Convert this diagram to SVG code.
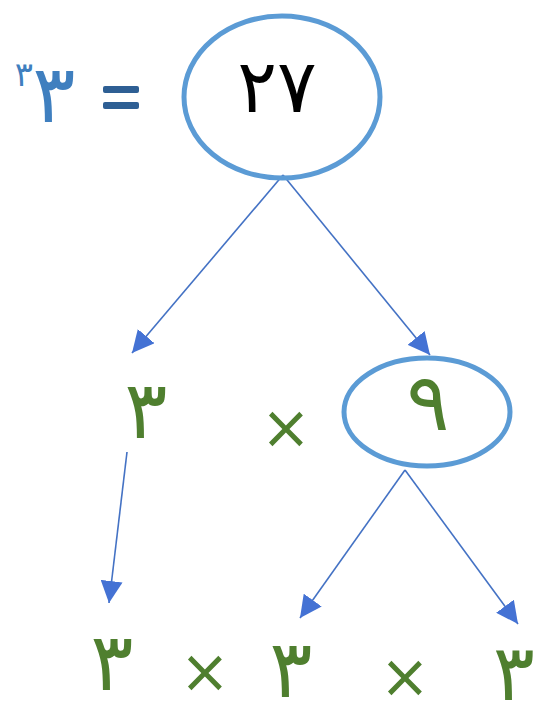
<svg xmlns="http://www.w3.org/2000/svg" width="542" height="718" viewBox="0 0 542 718">
<defs>
<style>
.ell{fill:none;stroke:#5b9bd5;stroke-width:5}
.con{stroke:#4472c4;stroke-width:1.6;fill:none}
.g{font-family:"DejaVu Sans",sans-serif;fill:#4f7f2f;text-anchor:middle}
.k{font-family:"DejaVu Sans",sans-serif;fill:#000;text-anchor:middle}
.b{font-family:"DejaVu Sans",sans-serif;fill:#3f7fbf;text-anchor:middle}
</style>
<marker id="ah" markerUnits="userSpaceOnUse" markerWidth="24" markerHeight="22" refX="22" refY="11" orient="auto">
<path d="M0,0 L22,11 L0,22 Z" fill="#4472d4"/>
</marker>
</defs>
<rect width="542" height="718" fill="#fff"/>
<g id="connectors">
<line class="con" x1="283" y1="175" x2="132" y2="353" marker-end="url(#ah)"/>
<line class="con" x1="283" y1="175" x2="430" y2="355" marker-end="url(#ah)"/>
<line class="con" x1="127" y1="452" x2="109" y2="603" marker-end="url(#ah)"/>
<line class="con" x1="405" y1="470" x2="300" y2="618" marker-end="url(#ah)"/>
<line class="con" x1="405" y1="470" x2="518" y2="624" marker-end="url(#ah)"/>
</g>
<g id="lhs">
<text class="b" x="24" y="86" font-size="34">٣</text>
<text class="b" x="54" y="122" font-size="80">٣</text>
<rect x="103" y="86" width="36" height="7" fill="#2e5f94" rx="2"/>
<rect x="103" y="102" width="36" height="7" fill="#2e5f94" rx="2"/>
</g>
<g id="n27">
<ellipse class="ell" cx="282" cy="97" rx="98" ry="81"/>
<text class="k" x="277" y="112" font-size="74">٢٧</text>
</g>
<g id="n3a"><text class="g" x="146" y="438" font-size="80">٣</text></g>
<g id="x1"><text class="g" x="286" y="448" font-size="60">×</text></g>
<g id="n9">
<ellipse class="ell" cx="427" cy="412" rx="83" ry="54"/>
<text class="g" x="428" y="430" font-size="80">٩</text>
</g>
<g id="n3b"><text class="g" x="112" y="690" font-size="80">٣</text></g>
<g id="x2"><text class="g" x="205" y="692" font-size="60">×</text></g>
<g id="n3c"><text class="g" x="291" y="697" font-size="80">٣</text></g>
<g id="x3"><text class="g" x="405" y="697" font-size="60">×</text></g>
<g id="n3d"><text class="g" x="514" y="700" font-size="78">٣</text></g>
</svg>
